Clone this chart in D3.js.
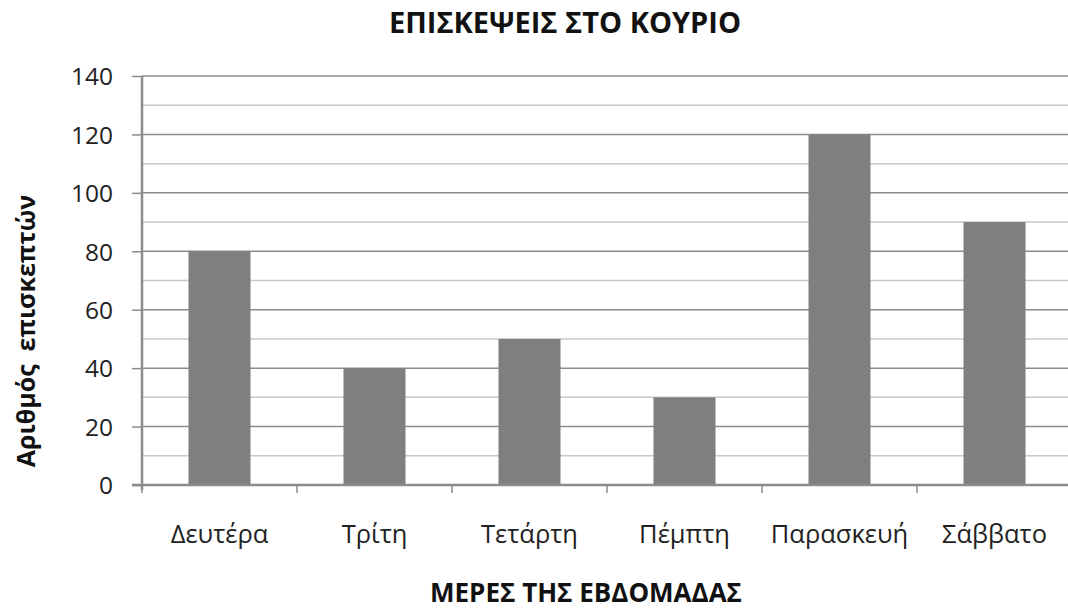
<!DOCTYPE html>
<html><head><meta charset="utf-8">
<script src="https://cdn.jsdelivr.net/npm/d3@7"></script>
<style>body{margin:0;background:#fff}svg{display:block}</style>
</head><body>
<script>
const categories = ["Δευτέρα","Τρίτη","Τετάρτη","Πέμπτη","Παρασκευή","Σάββατο"];
const visitors = [80,40,50,30,120,90];
const yTicks = [0,20,40,60,80,100,120,140];
const minorTicks = [10,30,50,70,90,110,130];
const title = "ΕΠΙΣΚΕΨΕΙΣ ΣΤΟ ΚΟΥΡΙΟ";
const xTitle = "ΜΕΡΕΣ ΤΗΣ ΕΒΔΟΜΑΔΑΣ";
const yTitle = "Αριθμός  επισκεπτών";

(function(){
const W=1068,H=609;
const svg=d3.select("body").append("svg").attr("width",W).attr("height",H);
const pL=142,pR=1072,pT=76,pB=485;
const x=d3.scaleBand().domain(categories).range([pL,pR]).padding(0);
const y=d3.scaleLinear().domain([0,140]).range([pB,pT]);
const font="'Open Sans', Calibri, sans-serif";

svg.append("g").selectAll("line").data(minorTicks).join("line")
 .attr("x1",pL).attr("x2",pR).attr("y1",d=>y(d)).attr("y2",d=>y(d))
 .attr("stroke","#c8c8c8").attr("stroke-width",1.5);
svg.append("g").selectAll("line").data(yTicks.filter(d=>d>0)).join("line")
 .attr("x1",pL).attr("x2",pR).attr("y1",d=>y(d)).attr("y2",d=>y(d))
 .attr("stroke","#8c8c8c").attr("stroke-width",1.5);

const bw=x.bandwidth()*0.4;
svg.append("g").selectAll("rect").data(visitors).join("rect")
 .attr("x",(d,i)=>x(categories[i])+x.bandwidth()/2-bw/2)
 .attr("y",d=>y(d)).attr("width",bw).attr("height",d=>pB-y(d))
 .attr("fill","#7f7f7f");

const ya=svg.append("g").attr("transform",`translate(${pL},0)`)
 .call(d3.axisLeft(y).tickValues(yTicks).tickSize(10).tickPadding(19));
ya.select(".domain").remove();
ya.selectAll(".tick line").attr("stroke","#8c8c8c").attr("stroke-width",1.5);
ya.selectAll("text").attr("font-family",font).attr("font-size",24.5).attr("fill","#222").attr("dy","0.36em");
svg.append("line").attr("x1",pL).attr("x2",pL).attr("y1",pT).attr("y2",pB+5)
 .attr("stroke","#8c8c8c").attr("stroke-width",2.5);

const xa=svg.append("g").attr("transform",`translate(0,${pB})`)
 .call(d3.axisBottom(x).tickSize(0));
xa.select(".domain").remove();
xa.selectAll("text").attr("font-family",font).attr("font-size",25.5).attr("fill","#222")
 .attr("y",58).attr("dy",0);
const edges=categories.map(c=>x(c)).concat([pR]);
svg.append("g").selectAll("line").data(edges).join("line")
 .attr("x1",d=>d).attr("x2",d=>d).attr("y1",pB).attr("y2",pB+8)
 .attr("stroke","#8c8c8c").attr("stroke-width",1.5);
svg.append("line").attr("x1",pL-10).attr("x2",pR).attr("y1",pB).attr("y2",pB)
 .attr("stroke","#8c8c8c").attr("stroke-width",2.5);

svg.append("text").attr("x",565).attr("y",33).attr("text-anchor","middle")
 .attr("font-family",font).attr("font-weight","bold").attr("font-size",29).attr("fill","#111").text(title);
svg.append("text").attr("x",586).attr("y",602).attr("text-anchor","middle")
 .attr("font-family",font).attr("font-weight","bold").attr("font-size",26).attr("fill","#111").text(xTitle);
svg.append("text").attr("transform","translate(35,331) rotate(-90)").attr("text-anchor","middle")
 .attr("font-family",font).attr("font-weight","bold").attr("font-size",25).attr("fill","#111")
 .style("white-space","pre").text(yTitle);
})();
</script>
</body></html>
